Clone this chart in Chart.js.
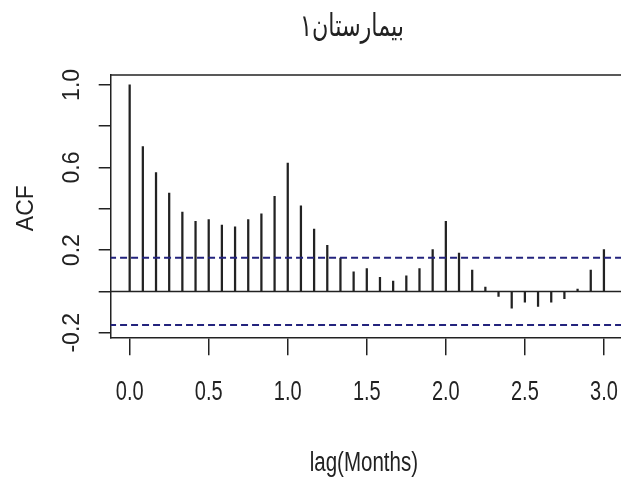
<!DOCTYPE html>
<html>
<head>
<meta charset="utf-8">
<script src="https://cdn.jsdelivr.net/npm/chart.js@4.4.1/dist/chart.umd.min.js"></script>
<style>
  html, body { margin: 0; padding: 0; background: #fff; overflow: hidden; }
  #wrap { width: 621px; height: 485px; }
</style>
</head>
<body>
<div id="wrap"><canvas id="acf"></canvas></div>
<script>
// lag (in years of 12 months) and autocorrelation
var lags = [0, 0.0833, 0.1667, 0.25, 0.3333, 0.4167, 0.5, 0.5833, 0.6667, 0.75, 0.8333, 0.9167,
            1, 1.0833, 1.1667, 1.25, 1.3333, 1.4167, 1.5, 1.5833, 1.6667, 1.75, 1.8333, 1.9167,
            2, 2.0833, 2.1667, 2.25, 2.3333, 2.4167, 2.5, 2.5833, 2.6667, 2.75, 2.8333, 2.9167, 3];
var acfValues = [1.0, 0.701, 0.576, 0.476, 0.384, 0.339, 0.348, 0.321, 0.313, 0.348, 0.376, 0.460,
                 0.621, 0.414, 0.302, 0.223, 0.162, 0.095, 0.111, 0.068, 0.050, 0.076, 0.111, 0.203,
                 0.339, 0.186, 0.103, 0.021, -0.024, -0.081, -0.052, -0.073, -0.052, -0.035, 0.011, 0.103, 0.203];
var ciBound = 0.163;
var xTicks = [0, 0.5, 1, 1.5, 2, 2.5, 3];
var yTicks = [-0.2, 0, 0.2, 0.4, 0.6, 0.8, 1.0];
var yLabels = [-0.2, 0.2, 0.6, 1.0];
var titleText = 'بیمارستان۱';
var xTitle = 'lag(Months)';
var yTitle = 'ACF';

var ink = '#222';
var sans = '"Liberation Sans", Arial, sans-serif';

var points = lags.map(function(l, i) { return { x: l, y: acfValues[i] }; });

// squeezed text, like the source image
function narrowText(ctx, txt, x, y, sx) {
  ctx.save();
  ctx.translate(x, y);
  ctx.scale(sx, 1);
  ctx.fillText(txt, 0, 0);
  ctx.restore();
}

// frame top, axis labels in R style, main title
var rFrame = {
  id: 'rFrame',
  afterDraw: function(chart) {
    var ctx = chart.ctx, ca = chart.chartArea, xs = chart.scales.x, ys = chart.scales.y;
    ctx.save();
    ctx.strokeStyle = ink; ctx.lineWidth = 1.5;
    ctx.beginPath(); ctx.moveTo(ca.left, ca.top); ctx.lineTo(ca.right, ca.top); ctx.stroke();

    ctx.fillStyle = ink; ctx.textAlign = 'center'; ctx.textBaseline = 'middle';
    ctx.font = '23px ' + sans;
    yLabels.forEach(function(v) {
      ctx.save();
      ctx.translate(73, ys.getPixelForValue(v));
      ctx.rotate(-Math.PI / 2);
      ctx.fillText(v.toFixed(1), 0, 0);
      ctx.restore();
    });
    ctx.save();
    ctx.translate(27, (ca.top + ca.bottom) / 2 + 2);
    ctx.rotate(-Math.PI / 2);
    ctx.fillText(yTitle, 0, 0);
    ctx.restore();

    ctx.font = '27px ' + sans;
    xTicks.forEach(function(v) {
      narrowText(ctx, v.toFixed(1), xs.getPixelForValue(v), 393, 0.74);
    });
    narrowText(ctx, xTitle, (ca.left + ca.right) / 2 - 2, 464, 0.76);

    ctx.font = '31px "DejaVu Sans", sans-serif';
    narrowText(ctx, titleText, 352, 28, 0.72);
    ctx.restore();
  }
};

new Chart(document.getElementById('acf'), {
  type: 'bar',
  data: {
    datasets: [
      { type: 'line', data: [{ x: -0.2, y: 0 }, { x: 3.2, y: 0 }], borderColor: ink, borderWidth: 1.5, pointRadius: 0 },
      { type: 'line', data: [{ x: -0.2, y: ciBound }, { x: 3.2, y: ciBound }], borderColor: '#23237d', borderWidth: 2, borderDash: [7, 4], pointRadius: 0 },
      { type: 'line', data: [{ x: -0.2, y: -ciBound }, { x: 3.2, y: -ciBound }], borderColor: '#23237d', borderWidth: 2, borderDash: [7, 4], pointRadius: 0 },
      { type: 'bar', data: points, backgroundColor: ink, barThickness: 1.6, grouped: false }
    ]
  },
  options: {
    responsive: true,
    maintainAspectRatio: false,
    animation: false,
    layout: { padding: { top: 75, left: 0, right: 0, bottom: 0 } },
    plugins: { legend: { display: false }, title: { display: false }, tooltip: { enabled: false } },
    scales: {
      x: {
        type: 'linear', min: -0.12, max: 3.108, offset: false,
        afterBuildTicks: function(s) { s.ticks = xTicks.map(function(v) { return { value: v }; }); },
        afterFit: function(s) { s.height = 147.7; },
        grid: { offset: false, drawOnChartArea: false, drawTicks: true, tickLength: 18, color: ink, lineWidth: 1.5 },
        border: { display: true, color: ink, width: 1.5 },
        ticks: { display: false }
      },
      y: {
        min: -0.222, max: 1.048,
        afterBuildTicks: function(s) { s.ticks = yTicks.map(function(v) { return { value: v }; }); },
        afterFit: function(s) { s.width = 110.7; },
        grid: { drawOnChartArea: false, drawTicks: true, tickLength: 12, color: ink, lineWidth: 1.5 },
        border: { display: true, color: ink, width: 1.5 },
        ticks: { display: false }
      }
    }
  },
  plugins: [rFrame]
});
</script>
</body>
</html>
